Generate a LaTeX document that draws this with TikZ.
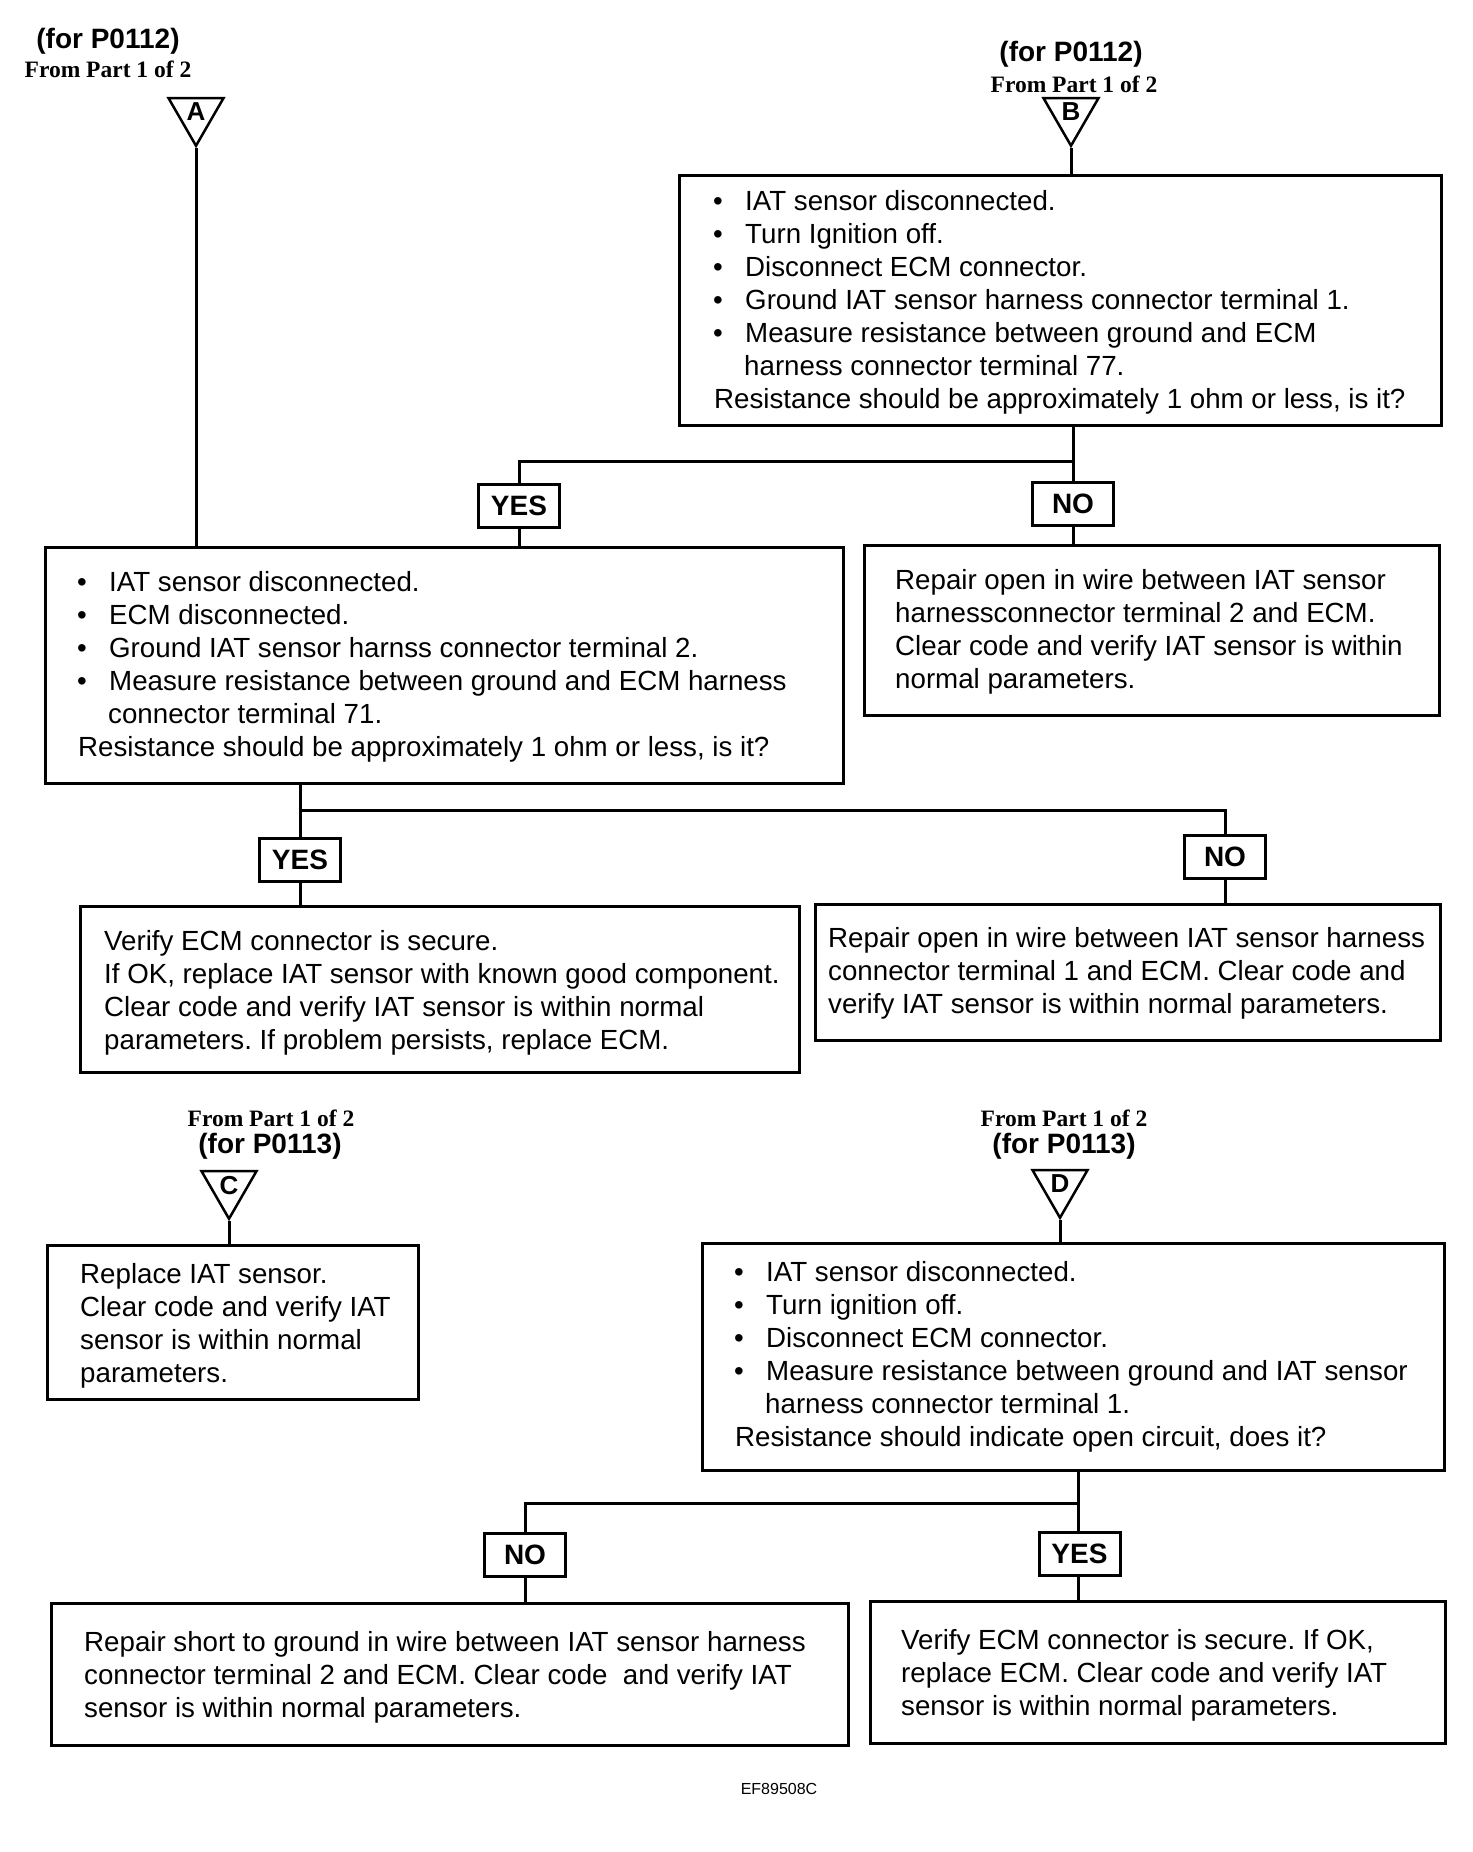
\documentclass[tikz,border=0pt]{standalone}
\usepackage{fontspec}
\setmainfont{Liberation Sans}
\newfontfamily\tnr{Liberation Serif}
\usetikzlibrary{shapes.geometric}
\frenchspacing
\tikzset{
  box/.style={draw,line width=3pt,inner sep=0pt},
  txt/.style={anchor=west,align=left,inner sep=0pt,font=\fontsize{27.7}{33}\selectfont},
  lbl/.style={draw,line width=3pt,inner sep=0pt,minimum width=81pt,minimum height=43pt,font=\fontsize{28}{30}\selectfont\bfseries},
  tri/.style={draw,line width=2.5pt,regular polygon,regular polygon sides=3,shape border rotate=180,minimum size=63.5pt,inner sep=0pt,font=\fontsize{26}{26}\selectfont\bfseries},
  hdr/.style={inner sep=0pt,font=\fontsize{28}{30}\selectfont\bfseries},
  frm/.style={inner sep=0pt,font=\fontsize{23.5}{25}\selectfont\tnr\bfseries},
  conn/.style={line width=3pt}
}
\newcommand{\bul}{\makebox[31pt][l]{\hspace*{-1pt}•}}
\newcommand{\cont}{\hspace*{30pt}}
\begin{document}
\begin{tikzpicture}[x=1pt,y=-1pt]
\useasboundingbox (0,0) rectangle (1472,1852);
% headers
\node[hdr] (hA) at (108,41) {(for P0112)};
\node[frm] (fA) at (108,69) {From Part 1 of 2};
\node[hdr] (hB) at (1071,54) {(for P0112)};
\node[frm] (fB) at (1074,84) {From Part 1 of 2};
\node[frm] (fC) at (271,1118) {From Part 1 of 2};
\node[hdr] (hC) at (270,1146) {(for P0113)};
\node[frm] (fD) at (1064,1118) {From Part 1 of 2};
\node[hdr] (hD) at (1064,1146) {(for P0113)};
% triangles
\node[tri] (tA) at (196,114) {\raisebox{4pt}{A}};
\node[tri] (tB) at (1071,114) {\raisebox{4pt}{B}};
\node[tri] (tC) at (229,1187) {\raisebox{4pt}{C}};
\node[tri] (tD) at (1060,1186) {\raisebox{4pt}{D}};
% boxes
\node[box,minimum width=762pt,minimum height=250pt] (b1) at (1060,300) {};
\node[box,minimum width=798pt,minimum height=236pt] (a1) at (444,665) {};
\node[box,minimum width=575pt,minimum height=170pt] (b2) at (1151.5,630) {};
\node[box,minimum width=719pt,minimum height=166pt] (a2) at (439.5,989) {};
\node[box,minimum width=625pt,minimum height=136pt] (a3) at (1127.5,972) {};
\node[box,minimum width=371pt,minimum height=154pt] (c1) at (232.5,1322) {};
\node[box,minimum width=742pt,minimum height=227pt] (d1) at (1073,1356.5) {};
\node[box,minimum width=797pt,minimum height=142pt] (d2) at (449.5,1674) {};
\node[box,minimum width=575pt,minimum height=142pt] (d3) at (1157.5,1672) {};
% texts
\node[txt] (tb1) at (714,302) {\bul IAT sensor disconnected.\\
\bul Turn Ignition off.\\
\bul Disconnect ECM connector.\\
\bul Ground IAT sensor harness connector terminal 1.\\
\bul Measure resistance between ground and ECM\\
\cont harness connector terminal 77.\\
Resistance should be approximately 1 ohm or less, is it?};
\node[txt] (ta1) at (78,667) {\bul IAT sensor disconnected.\\
\bul ECM disconnected.\\
\bul Ground IAT sensor harnss connector terminal 2.\\
\bul Measure resistance between ground and ECM harness\\
\cont connector terminal 71.\\
Resistance should be approximately 1 ohm or less, is it?};
\node[txt] (tb2) at (895,632) {Repair open in wire between IAT sensor\\
harnessconnector terminal 2 and ECM.\\
Clear code and verify IAT sensor is within\\
normal parameters.};
\node[txt] (ta2) at (104,993) {Verify ECM connector is secure.\\
If OK, replace IAT sensor with known good component.\\
Clear code and verify IAT sensor is within normal\\
parameters. If problem persists, replace ECM.};
\node[txt] (ta3) at (828,973) {Repair open in wire between IAT sensor harness\\
connector terminal 1 and ECM. Clear code and\\
verify IAT sensor is within normal parameters.};
\node[txt] (tc1) at (80,1326) {Replace IAT sensor.\\
Clear code and verify IAT\\
sensor is within normal\\
parameters.};
\node[txt] (td1) at (735,1357) {\bul IAT sensor disconnected.\\
\bul Turn ignition off.\\
\bul Disconnect ECM connector.\\
\bul Measure resistance between ground and IAT sensor\\
\cont harness connector terminal 1.\\
Resistance should indicate open circuit, does it?};
\node[txt] (td2) at (84,1677) {Repair short to ground in wire between IAT sensor harness\\
connector terminal 2 and ECM. Clear code\ \ and verify IAT\\
sensor is within normal parameters.};
\node[txt] (td3) at (901,1675) {Verify ECM connector is secure. If OK,\\
replace ECM. Clear code and verify IAT\\
sensor is within normal parameters.};
% YES/NO labels
\node[lbl] (yb) at (519,505.5) {YES};
\node[lbl] (nb) at (1073,504) {NO};
\node[lbl] (ya) at (300,860) {YES};
\node[lbl] (na) at (1225,857) {NO};
\node[lbl] (nd) at (525,1554.5) {NO};
\node[lbl] (yd) at (1079.5,1553.5) {YES};
% footer
\node[inner sep=0pt,font=\fontsize{16}{18}\selectfont] (ef) at (779,1789) {EF89508C};
% connectors
\coordinate (jB) at (1073,461);
\coordinate (jA) at (300,810);
\coordinate (jD) at (1078,1503);
\draw[conn] (tA.south) -- (tA.south |- a1.north);
\draw[conn] (tB.south) -- (tB.south |- b1.north);
\draw[conn] (jB |- b1.south) -- (nb.north);
\draw[conn] (jB) -| (yb.north);
\draw[conn] (yb.south) -- (yb.south |- a1.north);
\draw[conn] (nb.south) -- (nb.south |- b2.north);
\draw[conn] (jA |- a1.south) -- (ya.north);
\draw[conn] (jA) -| (na.north);
\draw[conn] (ya.south) -- (ya.south |- a2.north);
\draw[conn] (na.south) -- (na.south |- a3.north);
\draw[conn] (tC.south) -- (tC.south |- c1.north);
\draw[conn] (tD.south) -- (tD.south |- d1.north);
\draw[conn] (jD |- d1.south) -- (jD |- yd.north);
\draw[conn] (jD) -| (nd.north);
\draw[conn] (nd.south) -- (nd.south |- d2.north);
\draw[conn] (jD |- yd.south) -- (jD |- d3.north);
\end{tikzpicture}
\end{document}
